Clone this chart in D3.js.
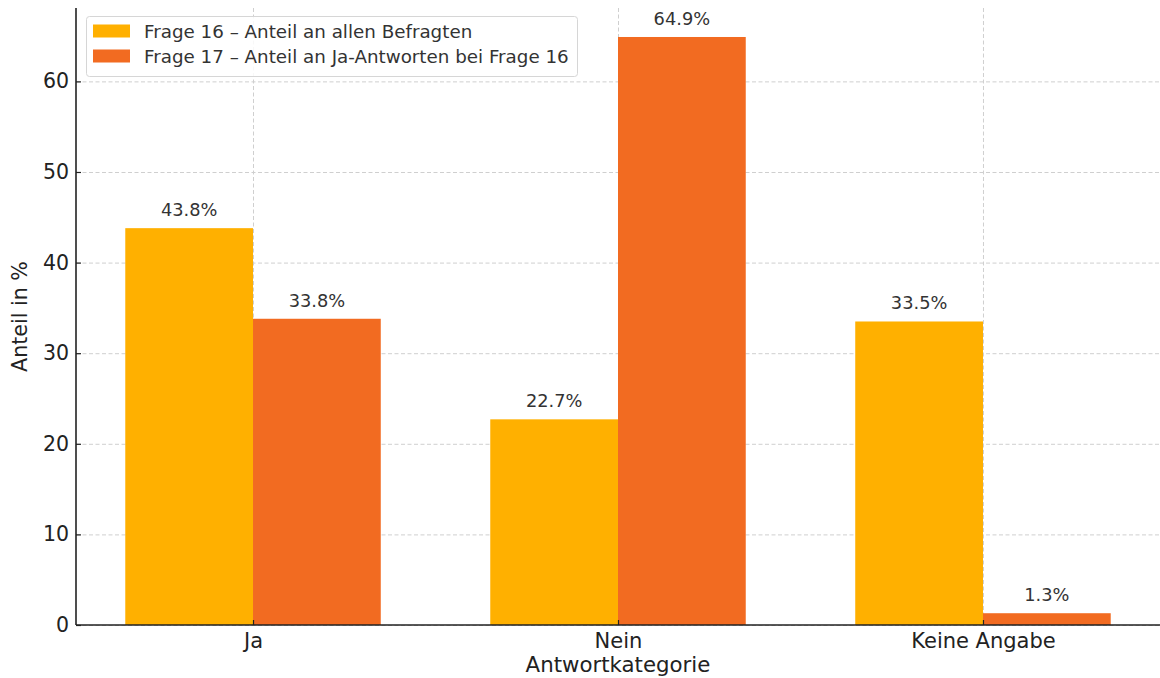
<!DOCTYPE html>
<html>
<head>
<meta charset="utf-8">
<script src="https://cdn.jsdelivr.net/npm/d3@7"></script>
<style>
  html, body { margin: 0; padding: 0; background: #fff; }
  svg { display: block; font-family: "DejaVu Sans", sans-serif; }
</style>
</head>
<body>
<svg id="chart" width="1160" height="678"></svg>
<script>
const categories = ["Ja", "Nein", "Keine Angabe"];
const seriesNames = ["Frage 16 – Anteil an allen Befragten", "Frage 17 – Anteil an Ja-Antworten bei Frage 16"];
const frage16 = [43.8, 22.7, 33.5];
const frage17 = [33.8, 64.9, 1.3];
const yTicks = [0, 10, 20, 30, 40, 50, 60];
const colors = ["#FFB000", "#F26B21"];
const xLabel = "Antwortkategorie";
const yLabel = "Anteil in %";

(function () {
const svg = d3.select("#chart");
const mLeft = 76, mRight = 1160, mTop = 8, mBottom = 625;
const barW = 0.35;

const x = d3.scaleLinear().domain([-0.485, 2.485]).range([mLeft, mRight]);
const y = d3.scaleLinear().domain([0, 68.1]).range([mBottom, mTop]);

// grid
const grid = svg.append("g");
grid.selectAll("line.h").data(yTicks).join("line")
  .attr("x1", mLeft).attr("x2", mRight)
  .attr("y1", d => y(d) + 0.5).attr("y2", d => y(d) + 0.5)
  .attr("stroke", "#cfcfcf").attr("stroke-width", 1).attr("stroke-dasharray", "4,2.5");
grid.selectAll("line.v").data(categories.map((c, i) => i)).join("line")
  .attr("x1", d => x(d) + 0.5).attr("x2", d => x(d) + 0.5)
  .attr("y1", mTop).attr("y2", mBottom)
  .attr("stroke", "#cfcfcf").attr("stroke-width", 1).attr("stroke-dasharray", "4,2.5");

// bars
const series = [frage16, frage17];
series.forEach((vals, s) => {
  const g = svg.append("g");
  const off = s === 0 ? -barW : 0;
  g.selectAll("rect").data(vals).join("rect")
    .attr("x", (d, i) => x(i + off))
    .attr("width", (d, i) => x(i + off + barW) - x(i + off))
    .attr("y", d => y(d))
    .attr("height", d => mBottom - y(d))
    .attr("fill", colors[s]);
  g.selectAll("text").data(vals).join("text")
    .attr("x", (d, i) => x(i + off + barW / 2))
    .attr("y", d => y(d) - 12)
    .attr("text-anchor", "middle")
    .attr("font-size", "17.8px")
    .attr("fill", "#333")
    .text(d => d.toFixed(1) + "%");
});

// axes
const yAxis = d3.axisLeft(y).tickValues(yTicks).tickSize(-5).tickPadding(7);
const yg = svg.append("g").attr("transform", `translate(${mLeft},0)`).call(yAxis);
const xAxis = d3.axisBottom(x).tickValues([0, 1, 2]).tickFormat(i => categories[i]).tickSize(-5).tickPadding(8);
const xg = svg.append("g").attr("transform", `translate(0,${mBottom})`).call(xAxis);
[yg, xg].forEach(g => {
  g.select(".domain").attr("stroke", "#222").attr("stroke-width", 1.6);
  g.selectAll(".tick line").attr("stroke", "#222").attr("stroke-width", 1.2);
  g.selectAll(".tick text").attr("fill", "#222")
    .attr("font-family", "DejaVu Sans, sans-serif");
});
yg.selectAll(".tick text").attr("font-size", "20.5px");
xg.selectAll(".tick text").attr("font-size", "21px");
yg.select(".domain").attr("d", `M0,${mBottom}V${mTop}`);
xg.select(".domain").attr("d", `M${mLeft},0H${mRight}`);

// axis labels
svg.append("text")
  .attr("x", x(1)).attr("y", 672)
  .attr("text-anchor", "middle").attr("font-size", "21.3px").attr("fill", "#222")
  .text(xLabel);
svg.append("text")
  .attr("transform", `translate(27,${(mTop + mBottom) / 2}) rotate(-90)`)
  .attr("text-anchor", "middle").attr("font-size", "20.6px").attr("fill", "#222")
  .text(yLabel);

// legend
const lg = svg.append("g");
lg.append("rect").attr("x", 86.5).attr("y", 16.5).attr("width", 491).attr("height", 60)
  .attr("rx", 3).attr("fill", "#fff").attr("fill-opacity", 0.85)
  .attr("stroke", "#d6d6d6").attr("stroke-width", 1);
seriesNames.forEach((name, i) => {
  const cy = 31 + i * 25;
  lg.append("rect").attr("x", 93).attr("y", cy - 6.5).attr("width", 37).attr("height", 13)
    .attr("fill", colors[i]);
  lg.append("text").attr("x", 144).attr("y", cy + 6.5)
    .attr("font-size", "18.3px").attr("fill", "#333").text(name);
});
})();
</script>
</body>
</html>
